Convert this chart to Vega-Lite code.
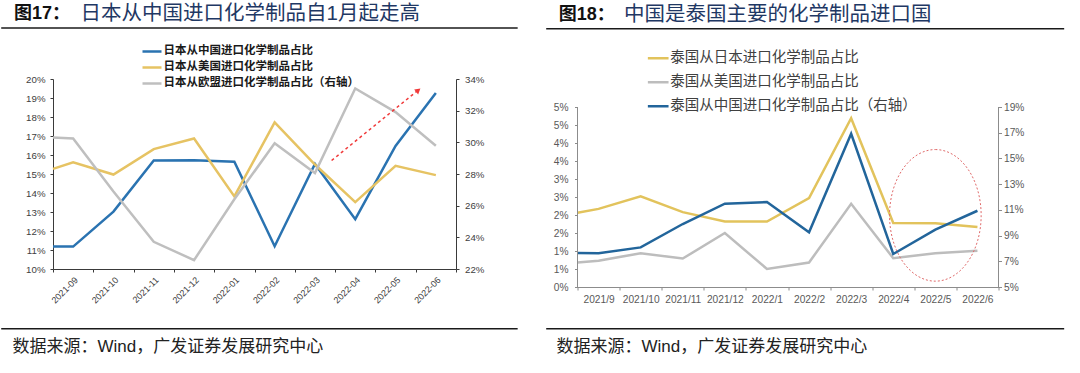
{
  "$schema": "https://vega.github.io/schema/vega-lite/v6.json",
  "padding": {"left": 0, "top": 3, "right": 5, "bottom": 15},
  "background": "white",
  "config": {
    "view": {"stroke": null},
    "font": "Noto Sans CJK SC",
    "axis": {"grid": false, "labelFont": "Liberation Sans", "titleFont": "Liberation Sans, Noto Sans CJK SC", "titleLimit": 1000, "labelLimit": 300}
  },
  "datasets": {
    "p1": [
      {"m": -0.5, "s": "日本从中国进口化学制品占比", "v": 11.18},
      {"m": 0, "s": "日本从中国进口化学制品占比", "v": 11.18},
      {"m": 1, "s": "日本从中国进口化学制品占比", "v": 13.02},
      {"m": 2, "s": "日本从中国进口化学制品占比", "v": 15.71},
      {"m": 3, "s": "日本从中国进口化学制品占比", "v": 15.72},
      {"m": 4, "s": "日本从中国进口化学制品占比", "v": 15.65},
      {"m": 5, "s": "日本从中国进口化学制品占比", "v": 11.2},
      {"m": 6, "s": "日本从中国进口化学制品占比", "v": 15.53},
      {"m": 7, "s": "日本从中国进口化学制品占比", "v": 12.62},
      {"m": 8, "s": "日本从中国进口化学制品占比", "v": 16.48},
      {"m": 9, "s": "日本从中国进口化学制品占比", "v": 19.26},
      {"m": -0.5, "s": "日本从美国进口化学制品占比", "v": 15.27},
      {"m": 0, "s": "日本从美国进口化学制品占比", "v": 15.62},
      {"m": 1, "s": "日本从美国进口化学制品占比", "v": 14.97},
      {"m": 2, "s": "日本从美国进口化学制品占比", "v": 16.31},
      {"m": 3, "s": "日本从美国进口化学制品占比", "v": 16.87},
      {"m": 4, "s": "日本从美国进口化学制品占比", "v": 13.82},
      {"m": 5, "s": "日本从美国进口化学制品占比", "v": 17.72},
      {"m": 6, "s": "日本从美国进口化学制品占比", "v": 15.5},
      {"m": 7, "s": "日本从美国进口化学制品占比", "v": 13.52},
      {"m": 8, "s": "日本从美国进口化学制品占比", "v": 15.43},
      {"m": 9, "s": "日本从美国进口化学制品占比", "v": 14.94},
      {"m": -0.5, "s": "日本从欧盟进口化学制品占比（右轴）", "v": 30.31},
      {"m": 0, "s": "日本从欧盟进口化学制品占比（右轴）", "v": 30.24},
      {"m": 1, "s": "日本从欧盟进口化学制品占比（右轴）", "v": 26.9},
      {"m": 2, "s": "日本从欧盟进口化学制品占比（右轴）", "v": 23.72},
      {"m": 3, "s": "日本从欧盟进口化学制品占比（右轴）", "v": 22.56},
      {"m": 4, "s": "日本从欧盟进口化学制品占比（右轴）", "v": 26.4},
      {"m": 5, "s": "日本从欧盟进口化学制品占比（右轴）", "v": 29.94},
      {"m": 6, "s": "日本从欧盟进口化学制品占比（右轴）", "v": 28.06},
      {"m": 7, "s": "日本从欧盟进口化学制品占比（右轴）", "v": 33.4},
      {"m": 8, "s": "日本从欧盟进口化学制品占比（右轴）", "v": 31.91},
      {"m": 9, "s": "日本从欧盟进口化学制品占比（右轴）", "v": 29.78}
    ],
    "p2": [
      {"m": -0.5, "s": "泰国从日本进口化学制品占比", "v": 2.06},
      {"m": 0, "s": "泰国从日本进口化学制品占比", "v": 2.17},
      {"m": 1, "s": "泰国从日本进口化学制品占比", "v": 2.52},
      {"m": 2, "s": "泰国从日本进口化学制品占比", "v": 2.08},
      {"m": 3, "s": "泰国从日本进口化学制品占比", "v": 1.82},
      {"m": 4, "s": "泰国从日本进口化学制品占比", "v": 1.82},
      {"m": 5, "s": "泰国从日本进口化学制品占比", "v": 2.47},
      {"m": 6, "s": "泰国从日本进口化学制品占比", "v": 4.69},
      {"m": 7, "s": "泰国从日本进口化学制品占比", "v": 1.78},
      {"m": 8, "s": "泰国从日本进口化学制品占比", "v": 1.77},
      {"m": 9, "s": "泰国从日本进口化学制品占比", "v": 1.67},
      {"m": -0.5, "s": "泰国从美国进口化学制品占比", "v": 0.68},
      {"m": 0, "s": "泰国从美国进口化学制品占比", "v": 0.73},
      {"m": 1, "s": "泰国从美国进口化学制品占比", "v": 0.94},
      {"m": 2, "s": "泰国从美国进口化学制品占比", "v": 0.79},
      {"m": 3, "s": "泰国从美国进口化学制品占比", "v": 1.5},
      {"m": 4, "s": "泰国从美国进口化学制品占比", "v": 0.5},
      {"m": 5, "s": "泰国从美国进口化学制品占比", "v": 0.68},
      {"m": 6, "s": "泰国从美国进口化学制品占比", "v": 2.31},
      {"m": 7, "s": "泰国从美国进口化学制品占比", "v": 0.8},
      {"m": 8, "s": "泰国从美国进口化学制品占比", "v": 0.94},
      {"m": 9, "s": "泰国从美国进口化学制品占比", "v": 1.01},
      {"m": -0.5, "s": "泰国从中国进口化学制品占比（右轴）", "v": 7.64},
      {"m": 0, "s": "泰国从中国进口化学制品占比（右轴）", "v": 7.63},
      {"m": 1, "s": "泰国从中国进口化学制品占比（右轴）", "v": 8.08},
      {"m": 2, "s": "泰国从中国进口化学制品占比（右轴）", "v": 9.9},
      {"m": 3, "s": "泰国从中国进口化学制品占比（右轴）", "v": 11.48},
      {"m": 4, "s": "泰国从中国进口化学制品占比（右轴）", "v": 11.61},
      {"m": 5, "s": "泰国从中国进口化学制品占比（右轴）", "v": 9.25},
      {"m": 6, "s": "泰国从中国进口化学制品占比（右轴）", "v": 16.92},
      {"m": 7, "s": "泰国从中国进口化学制品占比（右轴）", "v": 7.57},
      {"m": 8, "s": "泰国从中国进口化学制品占比（右轴）", "v": 9.46},
      {"m": 9, "s": "泰国从中国进口化学制品占比（右轴）", "v": 10.93}
    ]
  },
  "spacing": 25.5,
  "resolve": {"scale": {"color": "independent"}, "legend": {"color": "independent"}},
  "hconcat": [
    {
      "width": 403,
      "height": 190,
      "resolve": {"scale": {"y": "independent"}},
      "layer": [
        {
          "data": {"name": "p1"},
          "transform": [{"filter": "datum.s !== '日本从欧盟进口化学制品占比（右轴）'"}],
          "mark": {"type": "line", "strokeWidth": 2.5},
          "encoding": {
            "x": {
              "field": "m", "type": "quantitative",
              "scale": {"domain": [-0.5, 9.5], "nice": false, "zero": false},
              "axis": {
                "values": [-0.5, 0.5, 1.5, 2.5, 3.5, 4.5, 5.5, 6.5, 7.5, 8.5, 9.5],
                "labelExpr": "['2021-09','2021-10','2021-11','2021-12','2022-01','2022-02','2022-03','2022-04','2022-05','2022-06',''][round(datum.value + 0.5)]",
                "labelOffset": 23, "labelAngle": -45, "labelAlign": "right", "labelBaseline": "middle",
                "labelPadding": 6, "labelFontSize": 9, "labelColor": "#404040",
                "labelOverlap": false, "labelFlush": false, "labelBound": false,
                "tickSize": 3, "tickColor": "#3a3a3a", "tickWidth": 1, "domainColor": "#3a3a3a", "domainWidth": 1,
                "title": "数据来源：Wind，广发证券发展研究中心",
                "titleX": -41, "titleY": 77, "titleAlign": "left", "titleBaseline": "middle",
                "titleFontSize": 17, "titleFontWeight": "normal", "titleColor": "#222222"
              }
            },
            "y": {
              "field": "v", "type": "quantitative",
              "scale": {"domain": [10, 20], "nice": false, "zero": false},
              "axis": {
                "orient": "left",
                "values": [10, 11, 12, 13, 14, 15, 16, 17, 18, 19, 20],
                "labelExpr": "datum.value + '%'",
                "labelFontSize": 9.7, "labelColor": "#404040", "labelPadding": 5,
                "tickSize": 3, "tickColor": "#3a3a3a", "domainColor": "#3a3a3a", "domainWidth": 1,
                "title": "日本从中国进口化学制品自1月起走高",
                "titleAngle": 0, "titleX": 27, "titleY": -65.4, "titleAlign": "left", "titleBaseline": "middle",
                "titleFontSize": 20.5, "titleFontWeight": "normal", "titleColor": "#1f3864"
              }
            },
            "color": {
              "field": "s", "type": "nominal",
              "scale": {"domain": ["日本从中国进口化学制品占比", "日本从美国进口化学制品占比", "日本从欧盟进口化学制品占比（右轴）"], "range": ["#2a73b1", "#e6c363", "#bfbfbf"]},
              "legend": {
                "orient": "none", "legendX": 88, "legendY": -35.2, "direction": "vertical", "title": null,
                "symbolType": "stroke", "symbolStrokeWidth": 2.5, "symbolSize": 361, "clipHeight": 15.3,
                "rowPadding": 0, "padding": 0, "labelFont": "Noto Sans CJK SC", "labelFontSize": 11.5,
                "labelFontWeight": "bold", "labelColor": "#1a1a1a", "labelOffset": 0.5, "labelLimit": 1000
              }
            }
          }
        },
        {
          "data": {"name": "p1"},
          "transform": [{"filter": "datum.s === '日本从欧盟进口化学制品占比（右轴）'"}],
          "mark": {"type": "line", "strokeWidth": 2.5},
          "encoding": {
            "x": {"field": "m", "type": "quantitative", "scale": {"domain": [-0.5, 9.5], "nice": false, "zero": false}},
            "y": {
              "field": "v", "type": "quantitative",
              "scale": {"domain": [22, 34], "nice": false, "zero": false},
              "axis": {
                "orient": "right",
                "values": [22, 24, 26, 28, 30, 32, 34],
                "labelExpr": "datum.value + '%'",
                "labelFontSize": 9.7, "labelColor": "#404040", "labelPadding": 5.5,
                "tickSize": 3, "tickColor": "#3a3a3a", "domainColor": "#3a3a3a", "domainWidth": 1,
                "title": "图17：",
                "titleAngle": 0, "titleX": -442.6, "titleY": -65.4, "titleAlign": "left", "titleBaseline": "middle",
                "titleFontSize": 18, "titleFontWeight": "bold", "titleColor": "#111111"
              }
            },
            "color": {
              "field": "s", "type": "nominal",
              "scale": {"domain": ["日本从中国进口化学制品占比", "日本从美国进口化学制品占比", "日本从欧盟进口化学制品占比（右轴）"], "range": ["#2a73b1", "#e6c363", "#bfbfbf"]},
              "legend": {
                "orient": "none", "legendX": 88, "legendY": -35.2, "direction": "vertical", "title": null,
                "symbolType": "stroke", "symbolStrokeWidth": 2.5, "symbolSize": 361, "clipHeight": 15.3,
                "rowPadding": 0, "padding": 0, "labelFont": "Noto Sans CJK SC", "labelFontSize": 11.5,
                "labelFontWeight": "bold", "labelColor": "#1a1a1a", "labelOffset": 0.5, "labelLimit": 1000
              }
            }
          }
        },
        {
          "data": {"values": [{}]},
          "mark": {"type": "rule", "color": "#1a1a1a", "strokeWidth": 1.6},
          "encoding": {
            "x": {"datum": -1.785, "type": "quantitative", "scale": {"domain": [-0.5, 9.5], "nice": false, "zero": false}},
            "x2": {"datum": 11.03},
            "y": {"datum": 22.684, "type": "quantitative", "scale": {"domain": [10, 20], "nice": false, "zero": false}, "axis": null}
          }
        },
        {
          "data": {"values": [{}]},
          "mark": {"type": "rule", "color": "#1a1a1a", "strokeWidth": 1.6},
          "encoding": {
            "x": {"datum": -1.785, "type": "quantitative", "scale": {"domain": [-0.5, 9.5], "nice": false, "zero": false}},
            "x2": {"datum": 11.03},
            "y": {"datum": 6.858, "type": "quantitative", "scale": {"domain": [10, 20], "nice": false, "zero": false}, "axis": null}
          }
        },
        {
          "data": {"values": [{}]},
          "mark": {"type": "rule", "color": "#f03a3a", "strokeWidth": 1.5, "strokeDash": [3, 3]},
          "encoding": {
            "x": {"datum": 6.413, "type": "quantitative", "scale": {"domain": [-0.5, 9.5], "nice": false, "zero": false}},
            "x2": {"datum": 8.56},
            "y": {"datum": 15.71, "type": "quantitative", "scale": {"domain": [10, 20], "nice": false, "zero": false}, "axis": null},
            "y2": {"datum": 19.41}
          }
        },
        {
          "data": {"values": [{}]},
          "mark": {"type": "point", "shape": "triangle-up", "filled": true, "color": "#f03a3a", "opacity": 1, "size": 40, "angle": 51},
          "encoding": {
            "x": {"datum": 8.564, "type": "quantitative", "scale": {"domain": [-0.5, 9.5], "nice": false, "zero": false}},
            "y": {"datum": 19.41, "type": "quantitative", "scale": {"domain": [10, 20], "nice": false, "zero": false}, "axis": null}
          }
        }
      ]
    },
    {
      "width": 421,
      "height": 208,
      "resolve": {"scale": {"y": "independent"}},
      "layer": [
        {
          "data": {"name": "p2"},
          "transform": [{"filter": "datum.s !== '泰国从中国进口化学制品占比（右轴）'"}],
          "mark": {"type": "line", "strokeWidth": 2.5},
          "encoding": {
            "x": {
              "field": "m", "type": "quantitative",
              "scale": {"domain": [-0.5, 9.5], "nice": false, "zero": false},
              "axis": {
                "values": [-0.5, 0.5, 1.5, 2.5, 3.5, 4.5, 5.5, 6.5, 7.5, 8.5, 9.5],
                "labelExpr": "['2021/9','2021/10','2021/11','2021/12','2022/1','2022/2','2022/3','2022/4','2022/5','2022/6',''][round(datum.value + 0.5)]",
                "labelOffset": 21.05, "labelAngle": 0, "labelAlign": "center", "labelBaseline": "top",
                "labelPadding": 4.5, "labelFontSize": 10.2, "labelColor": "#595959",
                "labelOverlap": false, "labelFlush": false, "labelBound": false,
                "tickSize": 3, "tickColor": "#8c8c8c", "tickWidth": 1, "domainColor": "#8c8c8c", "domainWidth": 1,
                "title": "数据来源：Wind，广发证券发展研究中心",
                "titleX": -21.5, "titleY": 59, "titleAlign": "left", "titleBaseline": "middle",
                "titleFontSize": 17, "titleFontWeight": "normal", "titleColor": "#222222"
              }
            },
            "y": {
              "field": "v", "type": "quantitative",
              "scale": {"domain": [0, 5.7778], "nice": false, "zero": false},
              "axis": {
                "orient": "left",
                "values": [0, 0.5, 1, 1.5, 2, 2.5, 3, 3.5, 4, 4.5, 5],
                "labelExpr": "round(datum.value) + '%'",
                "labelFontSize": 10.2, "labelColor": "#595959", "labelPadding": 6.5,
                "tickSize": 3, "tickColor": "#8c8c8c", "domain": false,
                "title": "中国是泰国主要的化学制品进口国",
                "titleAngle": 0, "titleX": 46, "titleY": -64.7, "titleAlign": "left", "titleBaseline": "middle",
                "titleFontSize": 20.5, "titleFontWeight": "normal", "titleColor": "#1f3864"
              }
            },
            "color": {
              "field": "s", "type": "nominal",
              "scale": {"domain": ["泰国从日本进口化学制品占比", "泰国从美国进口化学制品占比", "泰国从中国进口化学制品占比（右轴）"], "range": ["#e2c35c", "#bdbdbd", "#22659b"]},
              "legend": {
                "orient": "none", "legendX": 68.7, "legendY": -32.3, "direction": "vertical", "title": null,
                "symbolType": "stroke", "symbolStrokeWidth": 2.5, "symbolSize": 428, "clipHeight": 23.2,
                "rowPadding": 0, "padding": 0, "labelFont": "Noto Sans CJK SC", "labelFontSize": 14.5,
                "labelFontWeight": "normal", "labelColor": "#404040", "labelOffset": 0, "labelLimit": 1000
              }
            }
          }
        },
        {
          "data": {"name": "p2"},
          "transform": [{"filter": "datum.s === '泰国从中国进口化学制品占比（右轴）'"}],
          "mark": {"type": "line", "strokeWidth": 2.5},
          "encoding": {
            "x": {"field": "m", "type": "quantitative", "scale": {"domain": [-0.5, 9.5], "nice": false, "zero": false}},
            "y": {
              "field": "v", "type": "quantitative",
              "scale": {"domain": [5, 21.178], "nice": false, "zero": false},
              "axis": {
                "orient": "right",
                "values": [5, 7, 9, 11, 13, 15, 17, 19],
                "labelExpr": "datum.value + '%'",
                "labelFontSize": 10.2, "labelColor": "#595959", "labelPadding": 2,
                "tickSize": 3, "tickColor": "#8c8c8c", "domain": false,
                "title": "图18：",
                "titleAngle": 0, "titleX": -440.3, "titleY": -64.7, "titleAlign": "left", "titleBaseline": "middle",
                "titleFontSize": 18, "titleFontWeight": "bold", "titleColor": "#111111"
              }
            },
            "color": {
              "field": "s", "type": "nominal",
              "scale": {"domain": ["泰国从日本进口化学制品占比", "泰国从美国进口化学制品占比", "泰国从中国进口化学制品占比（右轴）"], "range": ["#e2c35c", "#bdbdbd", "#22659b"]},
              "legend": {
                "orient": "none", "legendX": 68.7, "legendY": -32.3, "direction": "vertical", "title": null,
                "symbolType": "stroke", "symbolStrokeWidth": 2.5, "symbolSize": 428, "clipHeight": 23.2,
                "rowPadding": 0, "padding": 0, "labelFont": "Noto Sans CJK SC", "labelFontSize": 14.5,
                "labelFontWeight": "normal", "labelColor": "#404040", "labelOffset": 0, "labelLimit": 1000
              }
            }
          }
        },
        {
          "data": {"values": [{}]},
          "mark": {"type": "rule", "color": "#1a1a1a", "strokeWidth": 1.6},
          "encoding": {
            "x": {"datum": -1.2435, "type": "quantitative", "scale": {"domain": [-0.5, 9.5], "nice": false, "zero": false}},
            "x2": {"datum": 11.06},
            "y": {"datum": 7.175, "type": "quantitative", "scale": {"domain": [0, 5.7778], "nice": false, "zero": false}, "axis": null}
          }
        },
        {
          "data": {"values": [{}]},
          "mark": {"type": "rule", "color": "#1a1a1a", "strokeWidth": 1.6},
          "encoding": {
            "x": {"datum": -1.2435, "type": "quantitative", "scale": {"domain": [-0.5, 9.5], "nice": false, "zero": false}},
            "x2": {"datum": 11.06},
            "y": {"datum": -1.158, "type": "quantitative", "scale": {"domain": [0, 5.7778], "nice": false, "zero": false}, "axis": null}
          }
        },
        {
          "data": {"values": [{}]},
          "mark": {"type": "rule", "color": "#8c8c8c", "strokeWidth": 1},
          "encoding": {
            "x": {"datum": -0.5, "type": "quantitative", "scale": {"domain": [-0.5, 9.5], "nice": false, "zero": false}},
            "y": {"datum": 0, "type": "quantitative", "scale": {"domain": [0, 5.7778], "nice": false, "zero": false}, "axis": null},
            "y2": {"datum": 5}
          }
        },
        {
          "data": {"values": [{}]},
          "mark": {"type": "rule", "color": "#8c8c8c", "strokeWidth": 1},
          "encoding": {
            "x": {"datum": 9.5, "type": "quantitative", "scale": {"domain": [-0.5, 9.5], "nice": false, "zero": false}},
            "y": {"datum": 0, "type": "quantitative", "scale": {"domain": [0, 5.7778], "nice": false, "zero": false}, "axis": null},
            "y2": {"datum": 5}
          }
        },
        {
          "data": {"values": [{}]},
          "mark": {"type": "point", "shape": "M 0 -1 C 0.3844 -1 0.696 -0.5523 0.696 0 C 0.696 0.5523 0.3844 1 0 1 C -0.3844 1 -0.696 0.5523 -0.696 0 C -0.696 -0.5523 -0.3844 -1 0 -1 Z", "filled": false, "color": "#e06a6a", "opacity": 1, "strokeWidth": 1, "strokeDash": [2, 2], "size": 17319},
          "encoding": {
            "x": {"datum": 8, "type": "quantitative", "scale": {"domain": [-0.5, 9.5], "nice": false, "zero": false}},
            "y": {"datum": 1.99, "type": "quantitative", "scale": {"domain": [0, 5.7778], "nice": false, "zero": false}, "axis": null}
          }
        }
      ]
    }
  ]
}
